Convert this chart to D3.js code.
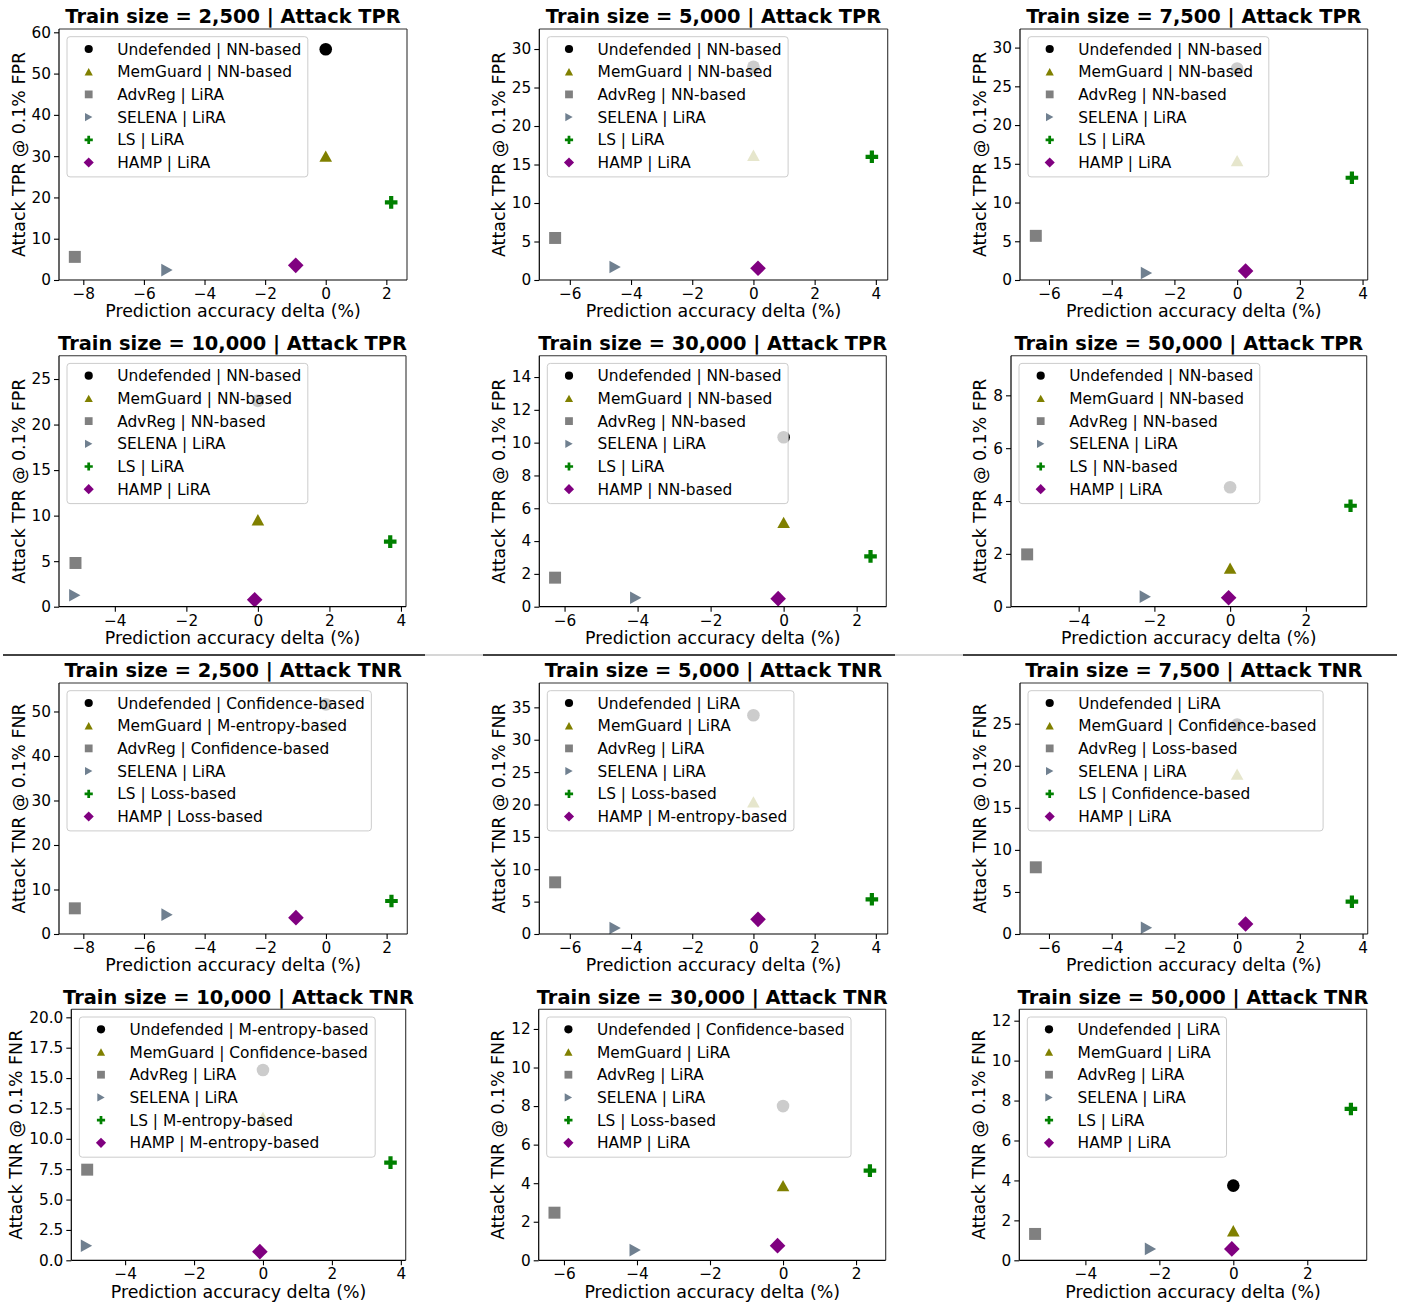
<!DOCTYPE html>
<html><head><meta charset="utf-8">
<script src="https://cdn.jsdelivr.net/npm/d3@7"></script>
<style>body{margin:0;background:#fff;} svg text{font-family:'DejaVu Sans',sans-serif;fill:#000;}</style>
</head><body><svg id="c" width="1403" height="1305"></svg>
<script>
// ---------- data ----------
const defenses = ["Undefended","MemGuard","AdvReg","SELENA","LS","HAMP"];
const trainSizes = ["2,500","5,000","7,500","10,000","30,000","50,000"];
// prediction accuracy delta (%) per train size, in defense order
const accDelta = [
  [0, 0, -8.28, -5.24, 2.16, -0.99],
  [0, 0, -6.48, -4.52, 3.87, 0.15],
  [0, 0, -6.42, -2.89, 3.66, 0.27],
  [0, 0, -5.10, -5.12, 3.70, -0.09],
  [0, 0, -6.26, -4.05, 2.38, -0.15],
  [0, 0, -5.36, -2.24, 3.18, -0.04]
];
const tprValues = [
  [55.9, 30.0, 5.6, 2.4, 18.8, 3.55],
  [27.7, 16.2, 5.46, 1.69, 16.0, 1.52],
  [27.3, 15.4, 5.7, 0.9, 13.2, 1.16],
  [22.6, 9.55, 4.8, 1.25, 7.14, 0.77],
  [10.33, 5.14, 1.77, 0.55, 3.07, 0.49],
  [4.52, 1.46, 1.98, 0.38, 3.82, 0.34]
];
const tnrValues = [
  [51.6, 46.9, 5.77, 4.35, 7.42, 3.67],
  [33.77, 20.4, 7.98, 0.93, 5.36, 2.26],
  [24.9, 19.0, 7.93, 0.75, 3.84, 1.19],
  [15.66, 11.77, 7.46, 1.2, 8.04, 0.71],
  [8.0, 3.87, 2.47, 0.53, 4.65, 0.76],
  [3.74, 1.48, 1.32, 0.57, 7.58, 0.57]
];
const tprAttacks = [
  ["NN-based","NN-based","LiRA","LiRA","LiRA","LiRA"],
  ["NN-based","NN-based","NN-based","LiRA","LiRA","LiRA"],
  ["NN-based","NN-based","NN-based","LiRA","LiRA","LiRA"],
  ["NN-based","NN-based","NN-based","LiRA","LiRA","LiRA"],
  ["NN-based","NN-based","NN-based","LiRA","LiRA","NN-based"],
  ["NN-based","NN-based","NN-based","LiRA","NN-based","LiRA"]
];
const tnrAttacks = [
  ["Confidence-based","M-entropy-based","Confidence-based","LiRA","Loss-based","Loss-based"],
  ["LiRA","LiRA","LiRA","LiRA","Loss-based","M-entropy-based"],
  ["LiRA","Confidence-based","Loss-based","LiRA","Confidence-based","LiRA"],
  ["M-entropy-based","Confidence-based","LiRA","LiRA","M-entropy-based","M-entropy-based"],
  ["Confidence-based","LiRA","LiRA","LiRA","Loss-based","LiRA"],
  ["LiRA","LiRA","LiRA","LiRA","LiRA","LiRA"]
];
const tprYMax = [60.8, 32.6, 32.4, 27.56, 15.3, 9.5];
const tnrYMax = [56.4, 38.76, 29.84, 20.66, 13.02, 12.57];
const tprYTicks = [
  [0,10,20,30,40,50,60],[0,5,10,15,20,25,30],[0,5,10,15,20,25,30],
  [0,5,10,15,20,25],[0,2,4,6,8,10,12,14],[0,2,4,6,8]
];
const tnrYTicks = [
  [0,10,20,30,40,50],[0,5,10,15,20,25,30,35],[0,5,10,15,20,25],
  [0,2.5,5,7.5,10,12.5,15,17.5,20],[0,2,4,6,8,10,12],[0,2,4,6,8,10,12]
];
const xTicks = [
  [-8,-6,-4,-2,0,2],[-6,-4,-2,0,2,4],[-6,-4,-2,0,2,4],
  [-4,-2,0,2,4],[-6,-4,-2,0,2],[-4,-2,0,2]
];

// ---------- styles / layout ----------
const colors = ["#000000","#808000","#808080","#708090","#008000","#800080"];
const H = 251;
const rowTops = [29, 355.7, 683, 1009.3];
const colLR = [
  [[59,407],[539.3,887.7],[1020,1367.7]],
  [[59,406],[539.3,886.3],[1011,1366.7]],
  [[59,407.3],[539.3,887.7],[1020,1367.7]],
  [[71.3,405.7],[538.7,885.7],[1019.3,1366.7]]
];
const TICK_FS = 15.3, LEG_FS = 15.4, LABEL_FS = 17.4, TITLE_FS = 19.4;
const MARK = 12.6, LEG_MARK = 8.2;

function markerPath(i, m) {
  const h = m/2;
  switch (i) {
    case 0: return `M${h},0A${h},${h} 0 1 1 ${-h},0A${h},${h} 0 1 1 ${h},0Z`;
    case 1: { const w = m, t = m*0.9; return `M0,${-t/2}L${w/2},${t/2}L${-w/2},${t/2}Z`; }
    case 2: { const s = m*0.95/2; return `M${-s},${-s}H${s}V${s}H${-s}Z`; }
    case 3: { const w = m, t = m*0.9; return `M${t/2},0L${-t/2},${-w/2}L${-t/2},${w/2}Z`; }
    case 4: { const a = m/2, b = m/6; return `M${-b},${-a}H${b}V${-b}H${a}V${b}H${b}V${a}H${-b}V${b}H${-a}V${-b}H${-b}Z`; }
    case 5: { const d = m*0.62; return `M0,${-d}L${d},0L0,${d}L${-d},0Z`; }
  }
}

const svg = d3.select("#c");

function panel(r, c, si, kind) {
  const [L, R] = colLR[r][c];
  const T = rowTops[r], B = T + H;
  const xs = accDelta[si];
  const ys = (kind === "TPR" ? tprValues : tnrValues)[si];
  const yMax = (kind === "TPR" ? tprYMax : tnrYMax)[si];
  const yTicks = (kind === "TPR" ? tprYTicks : tnrYTicks)[si];
  const attacks = (kind === "TPR" ? tprAttacks : tnrAttacks)[si];
  const xmin = d3.min(xs), xmax = d3.max(xs), pad = (xmax - xmin) * 0.05;
  const x = d3.scaleLinear().domain([xmin - pad, xmax + pad]).range([L, R]);
  const y = d3.scaleLinear().domain([0, yMax]).range([B, T]);
  const g = svg.append("g");

  // markers
  g.selectAll("path.pt").data(defenses).join("path")
    .attr("class", "pt")
    .attr("d", (d, i) => markerPath(i, MARK))
    .attr("transform", (d, i) => `translate(${x(xs[i])},${y(ys[i])})`)
    .attr("fill", (d, i) => colors[i]);

  // axes
  const yFmt = yTicks.some(v => v % 1 !== 0) ? d3.format(".1f") : d3.format("d");
  const xa = g.append("g").attr("transform", `translate(0,${B})`)
    .call(d3.axisBottom(x).tickValues(xTicks[si]).tickSize(5).tickPadding(3).tickFormat(d3.format("d")));
  const ya = g.append("g").attr("transform", `translate(${L},0)`)
    .call(d3.axisLeft(y).tickValues(yTicks).tickSize(5).tickPadding(3).tickFormat(yFmt));
  [xa, ya].forEach(a => {
    a.select(".domain").remove();
    a.selectAll("line").attr("stroke", "#000").attr("stroke-width", 1.1);
    a.selectAll("text").attr("font-size", TICK_FS).attr("font-family", "DejaVu Sans").attr("fill", "#000");
  });

  // spines
  g.append("line").attr("x1", L).attr("x2", R).attr("y1", T).attr("y2", T).attr("stroke", "#333").attr("stroke-width", 1.1);
  g.append("line").attr("x1", R).attr("x2", R).attr("y1", T).attr("y2", B).attr("stroke", "#333").attr("stroke-width", 1.1);
  g.append("line").attr("x1", L).attr("x2", R).attr("y1", B).attr("y2", B).attr("stroke", "#000").attr("stroke-width", 1.2);
  g.append("line").attr("x1", L).attr("x2", L).attr("y1", T).attr("y2", B).attr("stroke", "#000").attr("stroke-width", 1.2);

  // title
  g.append("text").attr("x", (L + R) / 2).attr("y", T - 5.7).attr("text-anchor", "middle")
    .attr("font-size", TITLE_FS).attr("font-weight", "bold")
    .text(`Train size = ${trainSizes[si]} | Attack ${kind}`);
  // x label
  g.append("text").attr("x", (L + R) / 2).attr("y", B + 37.3).attr("text-anchor", "middle")
    .attr("font-size", LABEL_FS).text("Prediction accuracy delta (%)");
  // y label
  let minLeft = L;
  ya.selectAll("text").each(function () { const bb = this.getBBox(); minLeft = Math.min(minLeft, L + bb.x); });
  const ylx = minLeft - 7;
  g.append("text").attr("transform", `translate(${ylx},${(T + B) / 2}) rotate(-90)`)
    .attr("text-anchor", "middle").attr("font-size", LABEL_FS)
    .text(kind === "TPR" ? "Attack TPR @ 0.1% FPR" : "Attack TNR @ 0.1% FNR");

  // legend
  const lg = g.append("g").attr("transform", `translate(${L + 8},${T + 7.7})`);
  const box = lg.append("rect").attr("rx", 3).attr("ry", 3)
    .attr("fill", "#fff").attr("fill-opacity", 0.8).attr("stroke", "#cccccc").attr("stroke-width", 1);
  let maxW = 0;
  defenses.forEach((d, i) => {
    const cy = 12.3 + i * 22.7;
    lg.append("path").attr("d", markerPath(i, LEG_MARK)).attr("transform", `translate(21.7,${cy})`).attr("fill", colors[i]);
    const t = lg.append("text").attr("x", 50.3).attr("y", cy).attr("dy", "0.36em")
      .attr("font-size", LEG_FS).text(`${d} | ${attacks[i]}`);
    maxW = Math.max(maxW, t.node().getComputedTextLength());
  });
  box.attr("x", 0).attr("y", 0).attr("width", 50.3 + maxW + 6.6).attr("height", 140.2);
}

for (let r = 0; r < 4; r++) {
  for (let c = 0; c < 3; c++) {
    const kind = r < 2 ? "TPR" : "TNR";
    const si = (r % 2) * 3 + c;
    panel(r, c, si, kind);
  }
}

// separator between TPR and TNR blocks
svg.append("line").attr("x1", 3).attr("x2", 1397).attr("y1", 655).attr("y2", 655)
  .attr("stroke", "#c8c8c8").attr("stroke-width", 1.6);
[[3, 425], [483, 895], [963, 1397]].forEach(([a, b]) => {
  svg.append("line").attr("x1", a).attr("x2", b).attr("y1", 655).attr("y2", 655)
    .attr("stroke", "#111").attr("stroke-width", 1.6);
});
</script></body></html>
